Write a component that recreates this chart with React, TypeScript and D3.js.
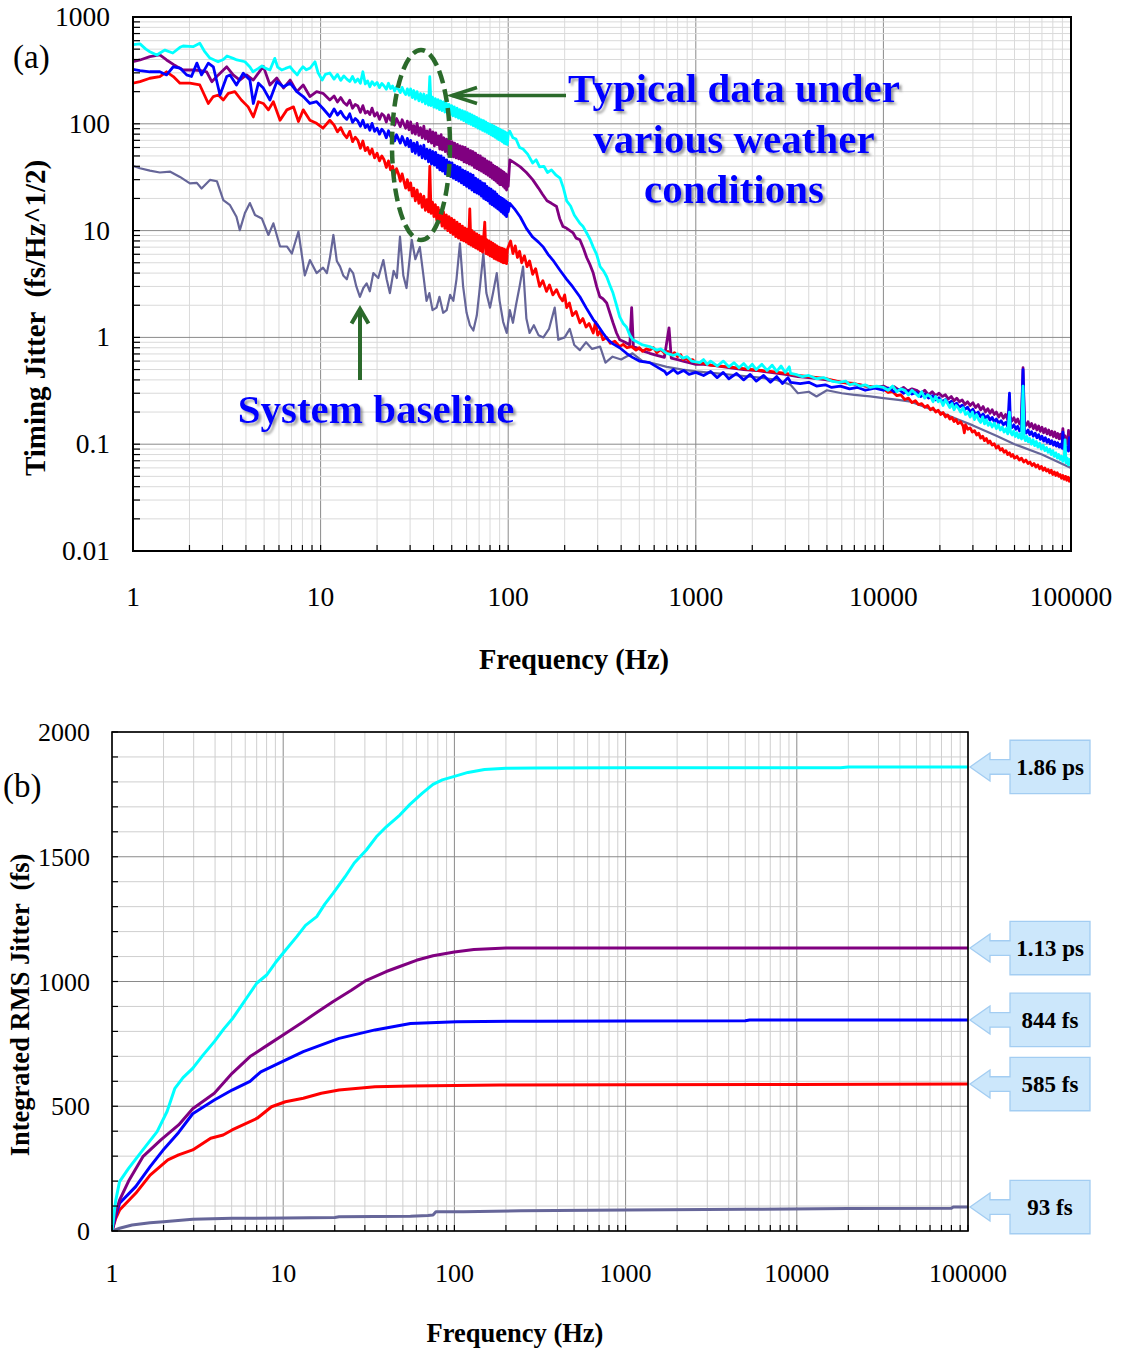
import React from "react";
import * as d3 from "d3";

type P = [number, number];

// ---------- Panel (a): timing jitter spectral density (fs/Hz^1/2) ----------
const cyanA: P[] = [
  [1,550],[1.09,560],[1.17,500],[1.23,473],[1.34,441],[1.42,470],[1.48,490],[1.63,460],[1.78,520],[1.85,535],[2.09,527],[2.27,567],[2.4,480],[2.57,413],[2.84,381],[3.03,400],[3.17,431],[3.42,410],[3.58,396],[3.95,381],[4.2,340],[4.36,307],[4.66,330],[4.87,348],[5.1,330],[5.37,319],[5.7,410],[5.9,340],[6.2,319],[6.5,330],[6.87,342],[7.2,310],[7.5,287],[7.8,320],[8.06,342],[8.4,320],[8.8,333],[9.33,381],[9.7,300],[10.2,257],[10.6,290],[11.2,299],
  [11.8,262],[12.3,290],[12.8,255],[13.3,281],[13.8,262],[14.3,249],[14.8,277],[15.3,246],[15.8,263],[16.3,240],[16.8,307],[17.3,236],[17.8,252],[18.3,222],[18.8,248],[19.4,230],[20,244],[20.6,218],[21.2,239],[21.8,226],[22.4,211],[23,240],[23.6,214],[24.2,226],[24.8,203],[25.4,222],[26,210],[26.6,196],[27.2,219],[27.8,200],[28.4,188],[29,212],[29.6,185],
  [30.2,212],[30.8,176],[31.4,205],[32,170],[32.7,200],[33.4,164],[34.1,192],[34.8,160],[35.5,190],[36.2,154],[36.9,184],[37.6,150],[38.2,276],[38.8,148],[39.5,178],[40.2,143],[40.9,172],[41.6,140],[42.3,168],[43,136],[43.7,164],[44.4,133],[45.2,160],[46,129],[46.8,156],[47.6,126],[48.4,152],[49.2,122],[50,148],[50.8,119],[51.6,144],[52.5,116],[53.4,140],[54.3,113],[55.2,136],[56.1,110],[57,133],[57.9,107],[58.8,130],[59.7,104],[60.6,127],[61.5,101],[62.4,124],[63.3,99],[64.2,121],[65.1,96],[66,118],[67,94],[68,115],[69,91],[70,112],[71,89],[72,109],[73,87],[74,107],[75,85],[76,104],[77,83],[78,101],[79,81],[80,99],[81,79],[82,97],[83,77],[84,95],[85,75],[86,93],[87,73],[88,91],[89,71],[90,89],[91,70],[92,87],[93,68],[94,86],[95,66],[96,84],[97,65],[98,82],[99,64],[100,80],
  [102,85],[106,74],[110,72],[115,60],[120,58],[127,52],[135,43],[141,46],[147,39.5],[155,40],[162,35],[170,37],[180,33],[189,31],[197,25],[205,19],[215,17],[225,14],[241,11.7],[250,11],[262,9.5],[273,8.3],[284,7],[296,6],[309,4.6],[322,4.2],[335,3.7],[348,3.1],[362,2.6],[378,2],[393,1.56],[410,1.35],[427,1.25],[445,1.05],[462,0.95],[490,0.9],[520,0.85],[568,0.82],[620,0.76],[650,0.78],[700,0.71],[760,0.68],[800,0.7],[854,0.64],[900,0.66],[950,0.6],[1050,0.58],
  [1100,0.62],[1150,0.56],[1200,0.6],[1300,0.54],[1400,0.6],[1500,0.53],[1600,0.58],[1700,0.52],[1800,0.57],[1900,0.51],[2000,0.56],[2100,0.5],[2250,0.56],[2400,0.49],[2550,0.55],[2700,0.48],[2850,0.54],[3000,0.47],[3150,0.53],[3200,0.46],
  [3400,0.45],[3700,0.43],[4000,0.44],[4400,0.41],[4800,0.42],[5300,0.39],[5800,0.38],[6300,0.39],[6600,0.36],[7000,0.37],[7500,0.35],[8000,0.36],[8500,0.34],[9200,0.35],
  [10000,0.34],[10600,0.32],[11200,0.35],[11800,0.31],[12400,0.33],[13000,0.32],[13600,0.29],[14200,0.32],[14800,0.3],[15400,0.28],[16000,0.31],[16600,0.27],[17200,0.29],[17800,0.28],[18400,0.25],[19000,0.28],[19600,0.25],[20200,0.26],[20800,0.23],[21400,0.26],[22000,0.24],[22600,0.22],[23200,0.24],[23800,0.21],[24400,0.23],[25000,0.22],[25800,0.2],[26600,0.22],[27400,0.19],[28200,0.2],[29000,0.18],[29800,0.2],[30600,0.17],[31400,0.19],[32200,0.17],[33000,0.16],[33800,0.18],[34600,0.155],[35400,0.17],[36200,0.15],[37000,0.16],[38000,0.145],[39000,0.158],[40000,0.14],[41000,0.152],[42000,0.136],[43000,0.145],[44000,0.13],[45000,0.14],[46000,0.125],[47000,0.2],[47600,0.13],[48500,0.122],[49500,0.133],[50500,0.118],[51500,0.128],[52500,0.115],[53500,0.124],[54500,0.112],[55500,0.35],[56300,0.115],[57200,0.108],[58200,0.118],[59200,0.105],[60200,0.113],[61500,0.1],[62800,0.11],[64000,0.097],[65300,0.106],[66600,0.094],[68000,0.102],[69500,0.09],[71000,0.098],[72500,0.087],[74000,0.093],[75500,0.084],[77000,0.09],[78500,0.08],[80000,0.087],[81500,0.077],[83000,0.083],[84500,0.074],[86000,0.08],[87500,0.072],[89000,0.077],[90500,0.069],[92000,0.075],[93000,0.11],[94000,0.067],[95500,0.074],[97000,0.064],[98500,0.072],[100000,0.066],
];

const purpleA: P[] = [
  [1,381],[1.09,396],[1.23,425],[1.39,441],[1.51,396],[1.64,360],[1.72,342],[1.85,319],[2.1,319],[2.3,315],[2.47,307],[2.63,248],[2.85,287],[3.16,342],[3.42,287],[3.71,257],[4.03,287],[4.38,257],[4.95,345],[5.37,231],[5.84,268],[6.34,216],[6.88,257],[7.47,200],[8.08,231],[8.77,180],[9.52,200],[10.3,193],[11.2,167],
  [11.8,182],[12.3,160],[12.8,176],[13.3,158],[13.8,149],[14.3,166],[14.8,140],[15.3,152],[15.8,147],[16.3,128],[16.8,148],[17.3,126],[17.8,131],[18.3,122],[18.8,140],[19.4,118],[20,127],[20.6,110],[21.2,124],[21.8,119],[22.4,104],[23,121],[23.6,108],[24.2,113],[24.8,97],[25.4,112],[26,103],[26.6,94],[27.2,109],[27.8,99],[28.4,91],[29,106],[29.6,88],
  [30.2,104],[30.8,82],[31.4,96],[32,80],[32.7,101],[33.4,78],[34.1,92],[34.8,74],[35.5,95],[36.2,72],[36.9,86],[37.6,68],[38.3,88],[39,66],[39.7,84],[40.4,62],[41.1,82],[41.8,64],[42.5,77],[43.2,58],[43.9,79],[44.6,57],[45.4,74],[46.2,55],[47,72],[47.8,52],[48.6,70],[49.4,51],[50.2,68],[51,49],[51.8,66],[52.7,48],[53.6,64],[54.5,47],[55.4,62],[56.3,46],[57.2,61],[58.1,44],[59,60],[60,43],[61,58],[62,42],[63,56],[64,41],[65,55],[66,39],[67,53],[68,38],[69,51],[70,37],[71,50],[72,36],[73,48],[74,35],[75,47],[76,34],[77,45],[78,33],[79,44],[80,32],[81,43],[82,31],[83,41],[84,30],[85,40],[86,29],[87,39],[88,28],[89,38],[90,27],[91,37],[92,27],[93,36],[94,26],[95,35],[96,25],[97,34],[98,24],[99,33],[100,26],
  [102,46],[108,43],[116,39.5],[125,35],[135,30],[145,25],[152,22],[161,19],[170,18],[181,16.8],[188,13],[196,10.9],[205,10.5],[222,9.5],[230,8.5],[241,8.2],[252,6.8],[262,5.6],[273,4.8],[284,4],[296,3],[308,2.4],[320,2.3],[335,2.1],[348,1.7],[362,1.37],[378,1.1],[393,0.95],[420,0.9],[445,0.85],[455,1.9],[465,0.82],[500,0.78],[530,0.74],[568,0.71],[620,0.68],[680,0.65],[720,1.23],[740,0.64],[800,0.62],[855,0.6],[920,0.58],[1000,0.56],
  [1100,0.56],[1300,0.54],[1500,0.52],[1800,0.5],[2100,0.49],[2500,0.47],[3000,0.45],[3500,0.43],[4000,0.42],[5000,0.4],[6000,0.38],[7500,0.36],[9000,0.34],
  [10000,0.35],[10700,0.33],[11400,0.345],[12100,0.32],[12800,0.34],[13500,0.315],[14200,0.33],[15000,0.32],[15800,0.3],[16600,0.32],[17400,0.29],[18200,0.31],[19000,0.285],[19800,0.3],[20600,0.28],[21400,0.29],[22200,0.265],[23000,0.28],[23800,0.255],[24600,0.27],[25400,0.25],[26300,0.26],[27200,0.235],[28100,0.25],[29000,0.23],[30000,0.245],[31000,0.22],[32000,0.235],[33000,0.21],[34000,0.225],[35000,0.2],[36000,0.215],[37000,0.195],[38000,0.21],[39000,0.19],[40000,0.2],[41200,0.18],[42400,0.195],[43600,0.175],[44800,0.19],[46000,0.17],[47200,0.182],[48400,0.165],[49600,0.177],[50800,0.16],[52000,0.172],[53200,0.155],[54400,0.166],[55500,0.52],[56500,0.16],[57700,0.15],[59000,0.162],[60300,0.145],[61600,0.156],[63000,0.14],[64400,0.152],[65800,0.136],[67200,0.148],[68600,0.132],[70000,0.144],[71500,0.128],[73000,0.14],[74500,0.125],[76000,0.136],[77500,0.122],[79000,0.132],[80500,0.118],[82000,0.13],[83500,0.115],[85000,0.126],[86500,0.112],[88000,0.124],[89500,0.11],[90500,0.14],[91500,0.108],[93000,0.12],[94500,0.105],[96000,0.1],[97000,0.135],[98000,0.11],[99000,0.125],[100000,0.116],
];

const blueA: P[] = [
  [1,323],[1.09,314],[1.23,307],[1.39,307],[1.51,287],[1.64,342],[1.78,333],[1.93,287],[2.05,277],[2.19,370],[2.32,287],[2.52,370],[2.68,342],[2.91,186],[3.16,277],[3.29,287],[3.56,231],[3.87,297],[4.2,257],[4.38,155],[4.66,240],[4.95,216],[5.37,167],[5.84,248],[6.34,222],[6.88,240],[7.47,200],[8.08,180],[8.77,155],[9.52,161],[10.3,139],[11.2,117],
  [11.8,138],[12.3,121],[12.8,131],[13.3,117],[13.8,110],[14.3,124],[14.8,103],[15.3,112],[15.8,106],[16.3,95],[16.8,108],[17.3,92],[17.8,98],[18.3,87],[18.8,101],[19.4,85],[20,91],[20.6,80],[21.2,89],[21.8,84],[22.4,74],[23,86],[23.6,76],[24.2,80],[24.8,69],[25.4,79],[26,72],[26.6,66],[27.2,76],[27.8,69],[28.4,63],[29,73],[29.6,61],
  [30.2,70],[30.8,55],[31.4,66],[32,53],[32.7,67],[33.4,51],[34.1,62],[34.8,48],[35.5,63],[36.2,47],[36.9,58],[37.6,44],[38.3,57],[39,42],[39.7,55],[40.4,41],[41.1,54],[41.8,39],[42.5,51],[43.2,37],[43.9,50],[44.6,36],[45.4,48],[46.2,34],[47,46],[47.8,33],[48.6,44],[49.4,32],[50.2,43],[51,31],[51.8,41],[52.7,30],[53.6,40],[54.5,29],[55.4,39],[56.3,28],[57.2,37],[58.1,27],[59,36],[60,26],[61,35],[62,25],[63,34],[64,24],[65,33],[66,23],[67,31],[68,22.5],[69,30],[70,22],[71,29],[72,21],[73,28],[74,20],[75,27.5],[76,19.5],[77,26],[78,19],[79,25],[80,18],[81,24.5],[82,17.5],[83,23.5],[84,17],[85,23],[86,16.5],[87,22],[88,16],[89,21],[90,15.5],[91,20.5],[92,15],[93,20],[94,14.5],[95,19.5],[96,14],[97,19],[98,13.5],[99,18.5],[100,15],
  [102,18],[108,16],[116,13.4],[125,10.5],[135,8.7],[145,7.8],[154,7],[163,6],[173,5.3],[188,4.3],[205,3.5],[220,3],[241,2.4],[260,1.9],[284,1.47],[300,1.3],[320,1.1],[340,0.95],[362,0.87],[393,0.8],[427,0.71],[460,0.65],[500,0.6],[568,0.58],[620,0.53],[683,0.48],[700,0.45],[760,0.5],[800,0.46],[860,0.49],[920,0.45],[1000,0.47],
  [1100,0.44],[1200,0.48],[1300,0.42],[1400,0.47],[1500,0.41],[1650,0.46],[1800,0.4],[1950,0.45],[2100,0.39],[2300,0.44],[2500,0.38],[2700,0.43],[2900,0.37],[3100,0.42],[3200,0.38],
  [3600,0.37],[4000,0.38],[4400,0.35],[4900,0.36],[5300,0.34],[5900,0.35],[6600,0.33],[7300,0.34],[8000,0.32],[9000,0.335],
  [10000,0.32],[10700,0.335],[11400,0.31],[12100,0.325],[12800,0.3],[13500,0.315],[14200,0.295],[15000,0.305],[15800,0.28],[16600,0.295],[17400,0.27],[18200,0.285],[19000,0.26],[19800,0.272],[20600,0.25],[21400,0.262],[22200,0.24],[23000,0.252],[23800,0.232],[24600,0.242],[25400,0.222],[26300,0.232],[27200,0.212],[28100,0.222],[29000,0.2],[30000,0.212],[31000,0.19],[32000,0.2],[33000,0.18],[34000,0.192],[35000,0.175],[36000,0.185],[37000,0.168],[38000,0.178],[39000,0.162],[40000,0.172],[41200,0.157],[42400,0.166],[43600,0.152],[44800,0.16],[46000,0.147],[47000,0.3],[47600,0.15],[48400,0.143],[49600,0.152],[50800,0.138],[52000,0.147],[53200,0.133],[54400,0.142],[55500,0.5],[56500,0.136],[57700,0.127],[59000,0.136],[60300,0.123],[61600,0.131],[63000,0.119],[64400,0.127],[65800,0.115],[67200,0.123],[68600,0.111],[70000,0.119],[71500,0.107],[73000,0.115],[74500,0.104],[76000,0.111],[77500,0.101],[79000,0.108],[80500,0.098],[82000,0.105],[83500,0.096],[85000,0.103],[86500,0.094],[88000,0.1],[89500,0.092],[90500,0.13],[91500,0.09],[93000,0.098],[94500,0.088],[96000,0.095],[97000,0.086],[98000,0.115],[99000,0.09],[100000,0.095],
];

const redA: P[] = [
  [1,240],[1.09,248],[1.23,267],[1.39,277],[1.51,307],[1.64,277],[1.78,240],[2.01,240],[2.27,231],[2.52,155],[2.68,180],[2.85,186],[3.03,167],[3.22,193],[3.49,200],[3.78,167],[4.11,144],[4.38,116],[4.66,161],[4.95,155],[5.27,135],[5.6,161],[6.08,108],[6.61,135],[7.17,144],[7.62,105],[8.08,135],[8.77,108],[9.52,101],[10.3,91],[11.2,108],
  [11.8,97],[12.3,84],[12.8,92],[13.3,80],[13.8,74],[14.3,85],[14.8,68],[15.3,75],[15.8,70],[16.3,59],[16.8,69],[17.3,56],[17.8,60],[18.3,52],[18.8,58],[19.4,48],[20,53],[20.6,45],[21.2,50],[21.8,46],[22.4,39],[23,45],[23.6,37],[24.2,40],[24.8,33],[25.4,38],[26,34],[26.6,29],[27.2,34],[27.8,29],[28.4,25],[29,30],[29.6,24],
  [30.2,28],[30.8,21],[31.4,25],[32,19],[32.7,24],[33.4,18],[34.1,22],[34.8,16.5],[35.5,21],[36.2,15.5],[36.9,19.5],[37.6,15],[38.2,40],[38.8,14.5],[39.5,18.5],[40.2,13.5],[40.9,17.5],[41.6,12.5],[42.3,16.5],[43,12],[43.7,15.5],[44.4,11],[45.2,15],[46,10.5],[46.8,14],[47.6,10],[48.4,13.5],[49.2,9.6],[50,13],[50.8,9.2],[51.6,12.5],[52.5,8.8],[53.4,12],[54.3,8.5],[55.2,11.5],[56.1,8.2],[57,11],[57.9,8],[58.8,10.6],[59.7,7.8],[60.6,10.3],[61.5,7.5],[62.4,16],[63.3,7.3],[64.2,10],[65.1,7.1],[66,9.6],[67,6.9],[68,9.3],[69,6.7],[70,9],[71,6.5],[72,8.8],[73,6.3],[74,8.6],[75,12],[76,6.1],[77,8.2],[78,6],[79,8],[80,5.8],[81,7.8],[82,5.7],[83,7.6],[84,5.5],[85,7.4],[86,5.4],[87,7.2],[88,5.3],[89,7],[90,5.2],[91,6.9],[92,5.1],[93,6.8],[94,5],[95,6.7],[96,5],[97,6.6],[98,4.9],[99,6.6],[100,7],
  [103,8],[106,6.1],[109,7.2],[112,5.6],[115,6.4],[118,5],[122,5.8],[126,4.6],[130,5.2],[135,3.9],[140,4.4],[147,3],[153,3.4],[160,2.7],[166,3.1],[173,2.5],[181,2.8],[188,2.4],[195,2.2],[200,2.5],[205,1.9],[212,2.1],[220,1.6],[230,1.75],[241,1.37],[250,1.5],[260,1.25],[270,1.35],[284,1.1],[292,1.4],[300,1.05],[310,1.15],[320,0.95],[335,1.0],[350,0.88],[370,0.92],[393,0.82],[410,0.86],[430,0.8],[455,0.82],[480,0.76],[500,0.8],[520,0.74],[545,0.78],[568,0.76],[595,0.8],[620,0.72],[650,0.77],[683,0.71],[710,0.74],[740,0.68],[770,0.72],[800,0.66],[830,0.69],[855,0.62],[890,0.64],[920,0.6],[960,0.62],[1000,0.58],
  [1100,0.57],[1200,0.55],[1500,0.53],[1800,0.51],[2000,0.5],[2500,0.48],[3000,0.46],[3500,0.44],[4000,0.43],[5000,0.41],[6000,0.38],[7000,0.37],[8000,0.35],[9000,0.34],
  [10000,0.33],[10600,0.305],[11200,0.31],[11800,0.285],[12400,0.29],[13000,0.262],[13600,0.27],[14200,0.245],[14800,0.255],[15400,0.235],[16000,0.24],[16600,0.222],[17200,0.23],[17800,0.21],[18400,0.218],[19000,0.2],[19600,0.208],[20200,0.19],[20800,0.198],[21400,0.18],[22000,0.188],[22600,0.172],[23200,0.178],[23800,0.163],[24400,0.17],[25000,0.156],[25800,0.162],[26600,0.148],[27000,0.128],[27400,0.152],[28200,0.138],[29000,0.142],[29800,0.13],[30600,0.134],[31400,0.122],[32200,0.127],[33000,0.114],[33800,0.119],[34600,0.108],[35400,0.113],[36200,0.103],[37000,0.107],[38000,0.098],[39000,0.101],[40000,0.092],[41000,0.096],[42000,0.088],[43000,0.091],[44000,0.084],[45000,0.087],[46000,0.08],[47000,0.083],[48000,0.077],[49000,0.08],[50000,0.074],[51500,0.077],[53000,0.071],[54500,0.074],[56000,0.068],[57500,0.071],[59000,0.066],[60500,0.068],[62000,0.063],[63500,0.066],[65000,0.061],[66500,0.064],[68000,0.059],[69500,0.062],[71000,0.057],[72500,0.06],[74000,0.056],[75500,0.058],[77000,0.054],[78500,0.057],[80000,0.052],[81500,0.055],[83000,0.051],[84500,0.054],[86000,0.05],[87500,0.052],[89000,0.048],[90500,0.051],[92000,0.047],[93500,0.05],[95000,0.046],[96500,0.049],[98000,0.045],[99000,0.048],[100000,0.046],
];

const baselineA: P[] = [
  [1,40.3],[1.09,38.4],[1.23,36.4],[1.39,35],[1.58,35.6],[1.78,31.8],[2.01,27.7],[2.19,28],[2.32,24.8],[2.57,29.8],[2.8,29],[3.03,19.3],[3.29,17.3],[3.56,13.5],[3.71,10.1],[3.95,14.6],[4.2,18.1],[4.47,14],[4.86,13],[5.27,9.1],[5.6,11.7],[6.08,7.1],[6.61,7.1],[7.03,6.1],[7.62,9.8],[8.24,3.8],[8.77,5.3],[9.52,4],[10.3,4.5],[10.8,4.0],[11.2,5.5],[11.7,9.1],[12.2,5.2],[12.7,4.6],[13.2,3.8],[13.8,3.5],[14.3,4.4],[14.9,4.0],[15.5,3.0],[16.2,2.4],[16.9,2.9],[17.6,3.2],[18.3,2.7],[19.1,4.0],[20.3,3.6],[21.6,5.3],[22.5,3.5],[23.4,2.6],[24.5,4.2],[25.5,3.6],[26.5,8.8],[27.6,3.8],[28.7,2.9],[29.6,4.8],[30.6,8.2],[32,5.4],[33.8,7.0],[35.2,4.0],[36.7,2.2],[38,2.6],[39.5,1.8],[41.5,1.9],[43,2.4],[45,1.7],[47,1.8],[49,2.5],[51,2.2],[53,3.5],[55.3,7.6],[57.5,3.0],[60,1.7],[62.5,1.3],[65.2,1.16],[68,1.6],[71,3.2],[73.7,6.1],[76.5,2.6],[80,1.9],[83,2.6],[86.9,4.0],[90,2.2],[94,1.4],[98.2,1.1],[102,1.8],[106,1.37],
  [110,2],[115,3],[120,4.6],[125,1.5],[130,1.1],[137,1.3],[145,1.05],[154,1.0],[165,1.2],[177,1.9],[185,0.95],[200,1.0],[213,1.2],[225,0.85],[241,0.76],[260,0.9],[280,0.78],[309,0.82],[330,0.58],[360,0.66],[400,0.62],[460,0.71],[520,0.6],[600,0.57],[700,0.53],[850,0.5],[1000,0.48],
  [1300,0.46],[1700,0.44],[2200,0.42],[2700,0.4],[3200,0.36],[3500,0.3],[4000,0.31],[4400,0.28],[5000,0.32],[6000,0.3],[7000,0.29],[8500,0.28],[10000,0.27],[12000,0.26],[14000,0.25],[17000,0.22],[20000,0.2],[25000,0.17],[30000,0.15],[40000,0.12],[50000,0.1],[70000,0.08],[100000,0.06],
];

const xTickLabelsA = ["1", "10", "100", "1000", "10000", "100000"];
const yTickLabelsA = ["0.01", "0.1", "1", "10", "100", "1000"];

// ---------- Panel (b): integrated RMS jitter (fs) ----------
const cyanB: P[] = [
  [1,0],[1.05,120],[1.107,198],[1.25,251],[1.515,325],[1.835,398],[2.1,480],[2.33,572],[2.6,615],[2.96,652],[3.4,705],[3.96,759],[4.5,810],[5.09,854],[5.6,895],[6.2,940],[7.0,993],[8.0,1026],[9.0,1075],[10,1114],[12,1180],[13.5,1225],[15.7,1260],[17.5,1310],[19.6,1354],[23,1420],[26,1475],[30.6,1527],[35,1580],[40,1620],[48,1667],[55,1710],[65,1755],[75,1790],[85,1808],[100,1822],[120,1838],[150,1850],[200,1855],[300,1856],[1000,1857],[5000,1857],[18000,1857],[20000,1860],[100000,1860],
];
const purpleB: P[] = [
  [1,0],[1.05,70],[1.107,124],[1.25,200],[1.515,298],[1.93,365],[2.45,425],[2.96,490],[3.96,552],[5.03,632],[6.4,699],[8.1,745],[10.3,792],[13.1,839],[16,880],[19.6,920],[25,965],[30.6,1005],[40,1040],[48,1060],[60,1085],[75,1103],[100,1118],[130,1128],[200,1134],[1000,1134],[100000,1134],
];
const blueB: P[] = [
  [1,0],[1.05,60],[1.107,111],[1.375,178],[1.67,258],[2.02,330],[2.45,395],[2.96,470],[3.96,525],[5.03,565],[6.4,600],[7.4,638],[10.3,685],[13.1,719],[21.2,772],[34.4,806],[55.4,832],[103,839],[300,841],[1000,842],[5000,843],[5300,846],[100000,846],
];
const redB: P[] = [
  [1,0],[1.05,50],[1.107,84],[1.375,151],[1.67,224],[2.12,285],[2.45,305],[2.96,325],[3.77,372],[4.46,385],[5.03,405],[7.05,452],[8.55,498],[10.3,518],[13.1,532],[16.7,552],[21.2,565],[34.4,578],[55.4,581],[184,585],[1000,586],[10000,587],[100000,589],
];
const baselineB: P[] = [
  [1,0],[1.107,11],[1.31,24],[1.67,33],[2,37],[2.96,47],[5.03,51],[10.3,52],[20,54],[21.2,57],[55.4,59],[70,62],[75,64],[78,77],[113,77],[244,81],[1000,84],[5000,87],[20000,90],[80000,91],[82000,96],[100000,96],
];
const calloutLabels = ["1.86 ps", "1.13 ps", "844 fs", "585 fs", "93 fs"];
const xTickLabelsB = ["1", "10", "100", "1000", "10000", "100000"];
const yTickValsB = [0, 500, 1000, 1500, 2000];

const FONT = "'Liberation Serif', 'Times New Roman', serif";
const GREEN = "#2b6a2b";

const isMajor = (v: number) => Math.abs(Math.log10(v) - Math.round(Math.log10(v))) < 1e-9;

export default function App() {
  const xA = d3.scaleLog().domain([1, 1e5]).range([133, 1071]);
  const yA = d3.scaleLog().domain([0.01, 1000]).range([551, 17]);
  const xB = d3.scaleLog().domain([1, 1e5]).range([112, 968]);
  const yB = d3.scaleLinear().domain([0, 2000]).range([1231, 732]);

  const lineA = d3.line<P>().x(d => xA(d[0])).y(d => yA(d[1]));
  const lineB = d3.line<P>().x(d => xB(d[0])).y(d => yB(d[1]));

  const xTicksA = xA.ticks();
  const yTicksA = yA.ticks();
  const xTicksB = xB.ticks();
  const yMinorB = d3.range(0, 2001, 100);

  const seriesA = [
    { d: baselineA, c: "#666699", w: 2.2 },
    { d: purpleA, c: "#800080", w: 2.8 },
    { d: redA, c: "#ff0000", w: 2.8 },
    { d: blueA, c: "#0000ff", w: 2.8 },
    { d: cyanA, c: "#00ffff", w: 2.8 },
  ];
  const seriesB = [
    { d: baselineB, c: "#666699" },
    { d: redB, c: "#ff0000" },
    { d: blueB, c: "#0000ff" },
    { d: purpleB, c: "#800080" },
    { d: cyanB, c: "#00ffff" },
  ];
  const calloutSeries = [cyanB, purpleB, blueB, redB, baselineB];

  const [ax0, ax1] = xA.range();
  const [ay1, ay0] = yA.range();
  const [bx0, bx1] = xB.range();
  const [by1, by0] = yB.range();

  return (
    <svg width={1124} height={1348} style={{ position: "absolute", left: 0, top: 0 }} fontFamily={FONT}>
      <defs>
        <clipPath id="clipA"><rect x={ax0} y={ay0} width={ax1 - ax0} height={ay1 - ay0} /></clipPath>
        <clipPath id="clipB"><rect x={bx0} y={by0} width={bx1 - bx0} height={by1 - by0} /></clipPath>
        <filter id="shadow" x="-10%" y="-30%" width="120%" height="160%">
          <feDropShadow dx="2.5" dy="2.5" stdDeviation="1.3" floodColor="#666" floodOpacity="0.65" />
        </filter>
      </defs>
      <rect width={1124} height={1348} fill="#fff" />

      {/* ================= Panel (a) ================= */}
      <g>
        {xTicksA.map((t, i) => (
          <line key={"gxa" + i} x1={xA(t)} x2={xA(t)} y1={ay0} y2={ay1}
            stroke={isMajor(t) ? "#8a8a8a" : "#dadada"} strokeWidth={1} />
        ))}
        {yTicksA.map((t, i) => (
          <line key={"gya" + i} x1={ax0} x2={ax1} y1={yA(t)} y2={yA(t)}
            stroke={isMajor(t) ? "#8a8a8a" : "#dadada"} strokeWidth={1} />
        ))}
        <g clipPath="url(#clipA)">
          {seriesA.map((s, i) => (
            <path key={"sa" + i} d={lineA(s.d) || ""} fill="none" stroke={s.c} strokeWidth={s.w} strokeLinejoin="round" />
          ))}
        </g>
        {xTicksA.map((t, i) => (
          <line key={"txa" + i} x1={xA(t)} x2={xA(t)} y1={ay1} y2={ay1 - 6} stroke="#000" strokeWidth={1.2} />
        ))}
        {yTicksA.map((t, i) => (
          <line key={"tya" + i} x1={ax0} x2={ax0 + 7} y1={yA(t)} y2={yA(t)} stroke="#000" strokeWidth={1.2} />
        ))}
        <rect x={ax0} y={ay0} width={ax1 - ax0} height={ay1 - ay0} fill="none" stroke="#000" strokeWidth={2} />
        {xTicksA.filter(isMajor).map((t, i) => (
          <text key={"lxa" + i} x={xA(t)} y={606} fontSize={27.5} textAnchor="middle">{xTickLabelsA[i]}</text>
        ))}
        {yTicksA.filter(isMajor).map((t, i) => (
          <text key={"lya" + i} x={110} y={yA(t) + 9} fontSize={27.5} textAnchor="end">{yTickLabelsA[i]}</text>
        ))}
        <text x={574} y={669} fontSize={28.5} fontWeight="bold" textAnchor="middle">Frequency (Hz)</text>
        <text transform="translate(45,318) rotate(-90)" fontSize={29} fontWeight="bold" textAnchor="middle" xmlSpace="preserve">Timing Jitter  (fs/Hz^1/2)</text>
        <text x={13} y={68} fontSize={33}>(a)</text>

        <ellipse cx={421} cy={145} rx={29} ry={95} fill="none" stroke={GREEN} strokeWidth={4.5} strokeDasharray="13 6" />
        <line x1={566} y1={95.5} x2={452} y2={95.5} stroke={GREEN} strokeWidth={3.5} />
        <polyline points="477,87.5 452,95.5 477,103.5" fill="none" stroke={GREEN} strokeWidth={3.5} />
        <line x1={360} y1={380} x2={360} y2={310} stroke={GREEN} strokeWidth={4} />
        <polyline points="351.5,323.5 360,309 368.5,323.5" fill="none" stroke={GREEN} strokeWidth={4} />
        <g fill="#0000ff" fontSize={41} fontWeight="bold" textAnchor="middle" filter="url(#shadow)">
          <text x={734} y={102}>Typical data under</text>
          <text x={734} y={153}>various weather</text>
          <text x={734} y={203}>conditions</text>
          <text x={376} y={423}>System baseline</text>
        </g>
      </g>

      {/* ================= Panel (b) ================= */}
      <g>
        {xTicksB.map((t, i) => (
          <line key={"gxb" + i} x1={xB(t)} x2={xB(t)} y1={by0} y2={by1}
            stroke={isMajor(t) ? "#8a8a8a" : "#cfcfcf"} strokeWidth={1} />
        ))}
        {yMinorB.map((t, i) => (
          <line key={"gyb" + i} x1={bx0} x2={bx1} y1={yB(t)} y2={yB(t)}
            stroke={t % 500 === 0 ? "#8a8a8a" : "#cfcfcf"} strokeWidth={1} />
        ))}
        <g clipPath="url(#clipB)">
          {seriesB.map((s, i) => (
            <path key={"sb" + i} d={lineB(s.d) || ""} fill="none" stroke={s.c} strokeWidth={3} strokeLinejoin="round" />
          ))}
        </g>
        {xTicksB.map((t, i) => (
          <line key={"txb" + i} x1={xB(t)} x2={xB(t)} y1={by1} y2={by1 - 6} stroke="#000" strokeWidth={1.2} />
        ))}
        {yMinorB.map((t, i) => (
          <line key={"tyb" + i} x1={bx0} x2={bx0 + 6} y1={yB(t)} y2={yB(t)} stroke="#000" strokeWidth={1.2} />
        ))}
        <rect x={bx0} y={by0} width={bx1 - bx0} height={by1 - by0} fill="none" stroke="#000" strokeWidth={1.6} />
        {xTicksB.filter(isMajor).map((t, i) => (
          <text key={"lxb" + i} x={xB(t)} y={1282} fontSize={26} textAnchor="middle">{xTickLabelsB[i]}</text>
        ))}
        {yTickValsB.map((t, i) => (
          <text key={"lyb" + i} x={90} y={yB(t) + 9} fontSize={26} textAnchor="end">{t}</text>
        ))}
        <text x={515} y={1342} fontSize={26.5} fontWeight="bold" textAnchor="middle">Frequency (Hz)</text>
        <text transform="translate(29,1005) rotate(-90)" fontSize={26.5} fontWeight="bold" textAnchor="middle" xmlSpace="preserve">Integrated RMS Jitter  (fs)</text>
        <text x={3} y={797} fontSize={33}>(b)</text>

        {calloutSeries.map((s, i) => {
          const c = yB(s[s.length - 1][1]);
          const tip = bx1 + 2;
          const path = `M${tip},${c} L${tip + 20},${c - 14} L${tip + 20},${c - 7.3} L${tip + 40},${c - 7.3} L${tip + 40},${c - 26.7} L${tip + 120},${c - 26.7} L${tip + 120},${c + 26.7} L${tip + 40},${c + 26.7} L${tip + 40},${c + 7.3} L${tip + 20},${c + 7.3} L${tip + 20},${c + 14} Z`;
          return (
            <g key={"co" + i}>
              <path d={path} fill="#cce7fb" stroke="#a3cdf2" strokeWidth={1.3} />
              <text x={tip + 80} y={c + 8} fontSize={23} fontWeight="bold" textAnchor="middle">{calloutLabels[i]}</text>
            </g>
          );
        })}
      </g>
    </svg>
  );
}
